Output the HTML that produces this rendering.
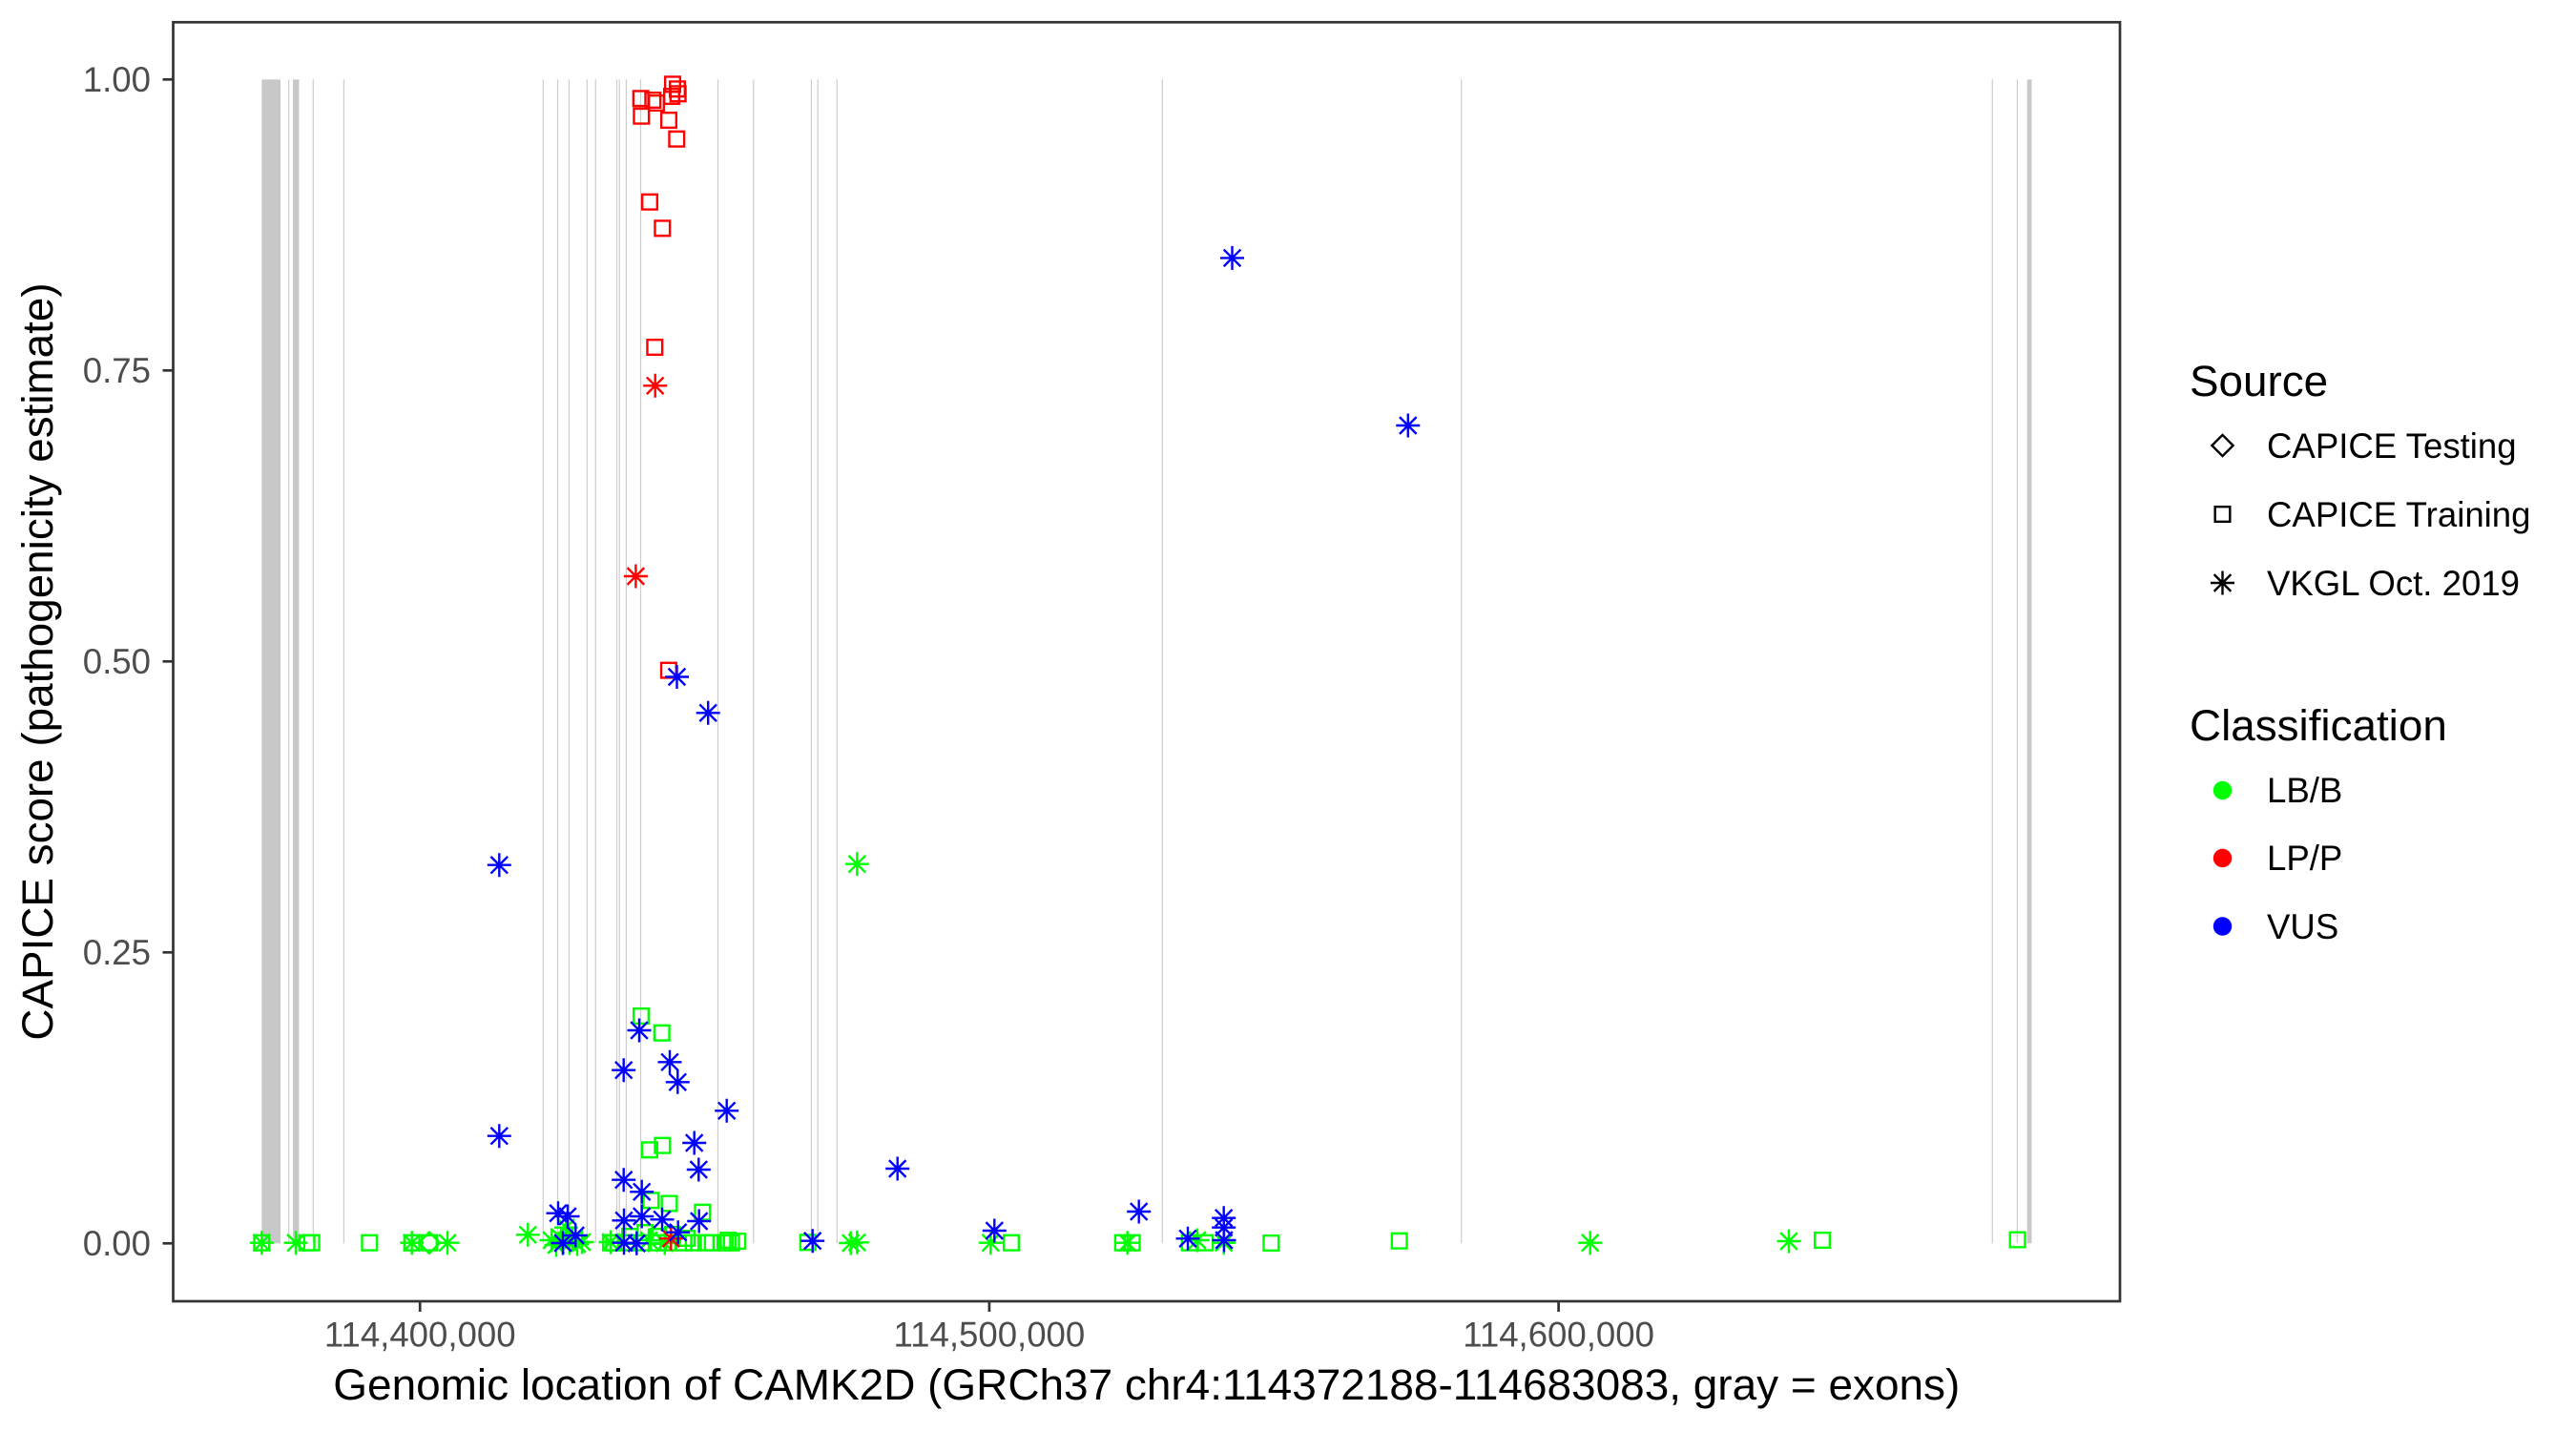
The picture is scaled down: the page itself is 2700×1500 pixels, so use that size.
<!DOCTYPE html>
<html>
<head>
<meta charset="utf-8">
<style>
html,body{margin:0;padding:0;background:#fff;}
svg{display:block;}
text{font-family:"Liberation Sans",Arial,sans-serif;}
</style>
</head>
<body>
<svg width="2700" height="1500" viewBox="0 0 2700 1500" xmlns="http://www.w3.org/2000/svg">
<defs>
<path id="a" d="M-12.5 0H12.5M0 -12.5V12.5M-8.84 -8.84L8.84 8.84M-8.84 8.84L8.84 -8.84" fill="none" stroke-width="2.4"/>
<path id="s" d="M-7.83 -7.83h15.66v15.66h-15.66z" fill="none" stroke-width="2.4"/>
<path id="d" d="M-11.08 0L0 -11.08L11.08 0L0 11.08z" fill="none" stroke-width="2.4"/>
</defs>
<rect width="2700" height="1500" fill="#fff"/>

<g fill="#C8C8C8">
<rect x="274.3" y="83.3" width="19.7" height="1220"/>
<rect x="307" y="83.3" width="6.4" height="1220"/>
<rect x="2124.7" y="83.3" width="4.8" height="1220"/>
</g>
<g stroke="#CDCDCD" stroke-width="1.2">
<line x1="302.7" y1="83.3" x2="302.7" y2="1303.3"/>
<line x1="328.3" y1="83.3" x2="328.3" y2="1303.3"/>
<line x1="360.4" y1="83.3" x2="360.4" y2="1303.3"/>
<line x1="569.3" y1="83.3" x2="569.3" y2="1303.3"/>
<line x1="584.5" y1="83.3" x2="584.5" y2="1303.3"/>
<line x1="596.5" y1="83.3" x2="596.5" y2="1303.3"/>
<line x1="615.3" y1="83.3" x2="615.3" y2="1303.3"/>
<line x1="624.3" y1="83.3" x2="624.3" y2="1303.3"/>
<line x1="646.5" y1="83.3" x2="646.5" y2="1303.3"/>
<line x1="649.2" y1="83.3" x2="649.2" y2="1303.3"/>
<line x1="656.4" y1="83.3" x2="656.4" y2="1303.3"/>
<line x1="671.5" y1="83.3" x2="671.5" y2="1303.3"/>
<line x1="752.5" y1="83.3" x2="752.5" y2="1303.3"/>
<line x1="789.8" y1="83.3" x2="789.8" y2="1303.3"/>
<line x1="850.4" y1="83.3" x2="850.4" y2="1303.3"/>
<line x1="857.2" y1="83.3" x2="857.2" y2="1303.3"/>
<line x1="877.3" y1="83.3" x2="877.3" y2="1303.3"/>
<line x1="1218.3" y1="83.3" x2="1218.3" y2="1303.3"/>
<line x1="1531.7" y1="83.3" x2="1531.7" y2="1303.3"/>
<line x1="2088.3" y1="83.3" x2="2088.3" y2="1303.3"/>
<line x1="2114.4" y1="83.3" x2="2114.4" y2="1303.3"/>
</g>

<g stroke="#00FF00">
<use href="#s" x="274.3" y="1302.7"/>
<use href="#s" x="321.7" y="1302.7"/>
<use href="#s" x="326.7" y="1302.7"/>
<use href="#s" x="387.3" y="1302.7"/>
<use href="#s" x="431.7" y="1302.7"/>
<use href="#s" x="450" y="1302.7"/>
<use href="#s" x="640" y="1302.7"/>
<use href="#s" x="643.3" y="1302.7"/>
<use href="#s" x="656.7" y="1302.7"/>
<use href="#s" x="673.3" y="1302.7"/>
<use href="#s" x="690" y="1302.7"/>
<use href="#s" x="700" y="1302.7"/>
<use href="#s" x="716.7" y="1302.7"/>
<use href="#s" x="726.7" y="1302.7"/>
<use href="#s" x="740" y="1302.7"/>
<use href="#s" x="746.7" y="1302.7"/>
<use href="#s" x="760" y="1302.7"/>
<use href="#s" x="763.3" y="1300"/>
<use href="#s" x="766.7" y="1302.7"/>
<use href="#s" x="773.3" y="1301"/>
<use href="#s" x="846.7" y="1302.3"/>
<use href="#s" x="1060" y="1302.7"/>
<use href="#s" x="1176.7" y="1302.7"/>
<use href="#s" x="1186.7" y="1302.7"/>
<use href="#s" x="1246.7" y="1302.7"/>
<use href="#s" x="1263.3" y="1302.7"/>
<use href="#s" x="1332.3" y="1303"/>
<use href="#s" x="1466.7" y="1300.7"/>
<use href="#s" x="1910" y="1300"/>
<use href="#s" x="2114.6" y="1299.5"/>
<use href="#s" x="672" y="1065"/>
<use href="#s" x="693.7" y="1082.7"/>
<use href="#s" x="681" y="1205.3"/>
<use href="#s" x="694.3" y="1200.7"/>
<use href="#s" x="682.3" y="1258.3"/>
<use href="#s" x="701.5" y="1261.5"/>
<use href="#s" x="736.3" y="1270.7"/>
<use href="#s" x="676" y="1292"/>
<use href="#s" x="690" y="1296"/>
<use href="#s" x="705" y="1294"/>
<use href="#s" x="720" y="1298"/>
<use href="#s" x="660" y="1296"/>
<use href="#d" x="450" y="1302.7"/>
<use href="#a" x="274.3" y="1302.7"/>
<use href="#a" x="310" y="1302.7"/>
<use href="#a" x="431.7" y="1302.7"/>
<use href="#a" x="469" y="1302.7"/>
<use href="#a" x="553.3" y="1294.3"/>
<use href="#a" x="578" y="1300"/>
<use href="#a" x="583" y="1305"/>
<use href="#a" x="588" y="1298"/>
<use href="#a" x="593.3" y="1286.7"/>
<use href="#a" x="597" y="1303"/>
<use href="#a" x="600" y="1300"/>
<use href="#a" x="605" y="1304"/>
<use href="#a" x="610" y="1302"/>
<use href="#a" x="640" y="1302"/>
<use href="#a" x="680" y="1300"/>
<use href="#a" x="696.7" y="1303"/>
<use href="#a" x="891.7" y="1303"/>
<use href="#a" x="898.3" y="1302.3"/>
<use href="#a" x="898.3" y="905.7"/>
<use href="#a" x="1038.3" y="1302.7"/>
<use href="#a" x="1181.7" y="1302.7"/>
<use href="#a" x="1255" y="1300"/>
<use href="#a" x="1282.7" y="1302.7"/>
<use href="#a" x="1666.7" y="1302.7"/>
<use href="#a" x="1875" y="1301"/>
</g>

<g stroke="#FF0000">
<use href="#s" x="705" y="88.3"/>
<use href="#s" x="710" y="93.3"/>
<use href="#s" x="710.7" y="98.3"/>
<use href="#s" x="704" y="101"/>
<use href="#s" x="671.7" y="103.3"/>
<use href="#s" x="684.3" y="105"/>
<use href="#s" x="688" y="108"/>
<use href="#s" x="672.3" y="121.7"/>
<use href="#s" x="701" y="126"/>
<use href="#s" x="709.3" y="145.7"/>
<use href="#s" x="681" y="211.7"/>
<use href="#s" x="694.3" y="239.3"/>
<use href="#s" x="686.3" y="364"/>
<use href="#s" x="700.9" y="702.6"/>
<use href="#a" x="686.7" y="404.3"/>
<use href="#a" x="666.4" y="604"/>
<use href="#a" x="703.3" y="1298.3"/>
</g>

<g stroke="#0000FF">
<use href="#a" x="1291.5" y="270.4"/>
<use href="#a" x="1475.8" y="446"/>
<use href="#a" x="709.5" y="709.5"/>
<use href="#a" x="742.2" y="747.3"/>
<use href="#a" x="523.3" y="906.7"/>
<use href="#a" x="670" y="1080"/>
<use href="#a" x="653.7" y="1121.7"/>
<use href="#a" x="702" y="1113.3"/>
<use href="#a" x="710.3" y="1134.3"/>
<use href="#a" x="761.7" y="1164.3"/>
<use href="#a" x="523.3" y="1190.7"/>
<use href="#a" x="727.7" y="1198"/>
<use href="#a" x="732.3" y="1226"/>
<use href="#a" x="940.7" y="1225"/>
<use href="#a" x="653.7" y="1236.7"/>
<use href="#a" x="672.7" y="1249.3"/>
<use href="#a" x="654" y="1279.3"/>
<use href="#a" x="672.7" y="1275"/>
<use href="#a" x="694" y="1278.3"/>
<use href="#a" x="710.7" y="1291.7"/>
<use href="#a" x="732.7" y="1280"/>
<use href="#a" x="654" y="1302.7"/>
<use href="#a" x="667.3" y="1303.3"/>
<use href="#a" x="585" y="1271.7"/>
<use href="#a" x="595" y="1275"/>
<use href="#a" x="603.3" y="1295"/>
<use href="#a" x="590" y="1303"/>
<use href="#a" x="1193.7" y="1270"/>
<use href="#a" x="1042.3" y="1290"/>
<use href="#a" x="1245" y="1298.3"/>
<use href="#a" x="1282.7" y="1276.7"/>
<use href="#a" x="1282.7" y="1286.7"/>
<use href="#a" x="1283" y="1300"/>
<use href="#a" x="851.7" y="1300.7"/>
</g>

<rect x="181.5" y="23.3" width="2040.5" height="1340.7" fill="none" stroke="#333333" stroke-width="2.7"/>

<g stroke="#333333" stroke-width="2.7">
<line x1="170.5" y1="83.3" x2="181.5" y2="83.3"/>
<line x1="170.5" y1="388.3" x2="181.5" y2="388.3"/>
<line x1="170.5" y1="693.3" x2="181.5" y2="693.3"/>
<line x1="170.5" y1="998.3" x2="181.5" y2="998.3"/>
<line x1="170.5" y1="1303.3" x2="181.5" y2="1303.3"/>
<line x1="440.2" y1="1364" x2="440.2" y2="1375"/>
<line x1="1036.9" y1="1364" x2="1036.9" y2="1375"/>
<line x1="1633.6" y1="1364" x2="1633.6" y2="1375"/>
</g>
<g font-size="36.6" fill="#4D4D4D" text-anchor="end">
<text x="158" y="96">1.00</text>
<text x="158" y="401">0.75</text>
<text x="158" y="706">0.50</text>
<text x="158" y="1011">0.25</text>
<text x="158" y="1316">0.00</text>
</g>
<g font-size="36.6" fill="#4D4D4D" text-anchor="middle">
<text x="440.2" y="1411.7">114,400,000</text>
<text x="1036.9" y="1411.7">114,500,000</text>
<text x="1633.6" y="1411.7">114,600,000</text>
</g>

<text x="1201.8" y="1467" font-size="45.8" text-anchor="middle" fill="#000" textLength="1705" lengthAdjust="spacingAndGlyphs">Genomic location of CAMK2D (GRCh37 chr4:114372188-114683083, gray = exons)</text>
<text transform="translate(55,693.5) rotate(-90)" font-size="45.8" text-anchor="middle" fill="#000">CAPICE score (pathogenicity estimate)</text>

<text x="2295" y="415" font-size="45.8" fill="#000">Source</text>
<g stroke="#000">
<use href="#d" x="2329.5" y="467"/>
<use href="#s" x="2329.5" y="539"/>
<use href="#a" x="2329.5" y="611"/>
</g>
<g font-size="36.6" fill="#000">
<text x="2376" y="480">CAPICE Testing</text>
<text x="2376" y="552">CAPICE Training</text>
<text x="2376" y="624">VKGL Oct. 2019</text>
</g>
<text x="2295" y="776" font-size="45.8" fill="#000">Classification</text>
<circle cx="2329.5" cy="828.5" r="9.7" fill="#00FF00"/>
<circle cx="2329.5" cy="899.5" r="9.7" fill="#FF0000"/>
<circle cx="2329.5" cy="971" r="9.7" fill="#0000FF"/>
<g font-size="36.6" fill="#000">
<text x="2376" y="841">LB/B</text>
<text x="2376" y="912">LP/P</text>
<text x="2376" y="984">VUS</text>
</g>
</svg>
</body>
</html>
